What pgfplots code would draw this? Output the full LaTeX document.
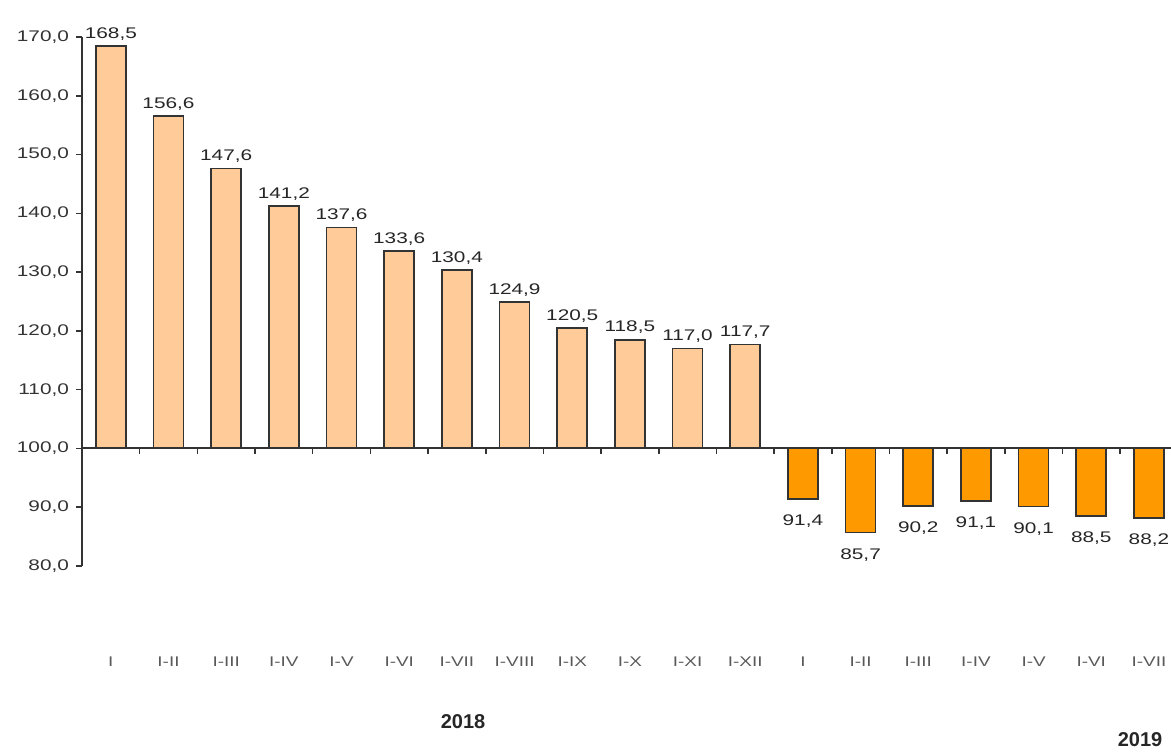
\documentclass[border=0pt]{standalone}
\usepackage{pgfplots}
\usepackage{pgfplotstable}
\pgfplotsset{compat=1.18}
\usepackage{fontspec}
\setmainfont{Liberation Sans}
\definecolor{peach}{HTML}{FFCC99}
\definecolor{orng}{HTML}{FF9900}
\definecolor{axc}{HTML}{333333}
\newcommand{\wide}[1]{\scalebox{1.35}[1]{#1}}

\pgfplotstableread{
x v
0 168.5
1 156.6
2 147.6
3 141.2
4 137.6
5 133.6
6 130.4
7 124.9
8 120.5
9 118.5
10 117.0
11 117.7
}\dataA
\pgfplotstableread{
x v
12 91.4
13 85.7
14 90.2
15 91.1
16 90.1
17 88.5
18 88.2
}\dataB

\begin{document}
\begin{tikzpicture}
\begin{axis}[
  at={(0,0)}, anchor=south west,
  scale only axis, width=545pt, height=264.5pt,
  xmin=-0.5, xmax=18.4,
  ymin=-20, ymax=70,
  y filter/.expression={y-100},
  axis y line*=left, axis x line*=bottom,
  x axis line style={draw=none},
  y axis line style={axc, line width=1.1pt, -},
  ytick={-20,-10,...,70},
  yticklabels={\wide{80,0},\wide{90,0},\wide{100,0},\wide{110,0},\wide{120,0},\wide{130,0},\wide{140,0},\wide{150,0},\wide{160,0},\wide{170,0}},
  yticklabel style={font=\fontsize{7.7}{9}\selectfont, text=black!80},
  ytick style={axc, line width=0.8pt},
  tick align=outside, major tick length=3pt,
  xtick={0,...,18},
  xtick style={draw=none},
  xticklabels={\wide{I},\wide{I-II},\wide{I-III},\wide{I-IV},\wide{I-V},\wide{I-VI},\wide{I-VII},\wide{I-VIII},\wide{I-IX},\wide{I-X},\wide{I-XI},\wide{I-XII},\wide{I},\wide{I-II},\wide{I-III},\wide{I-IV},\wide{I-V},\wide{I-VI},\wide{I-VII}},
  xticklabel style={font=\fontsize{7}{8}\selectfont, text=black!65, yshift=-39pt},
  ybar, bar width=15pt,
  /pgf/number format/assume math mode=true,
  nodes near coords={\wide{\pgfmathprintnumber[fixed,precision=1,zerofill,use comma,assume math mode=true]{\pgfplotspointmeta}}},
  point meta=\thisrow{v},
  every node near coord/.append style={font=\fontsize{7.7}{9}\selectfont, text=black!85, inner sep=2.5pt},
  clip=false,
]
\addplot[bar shift=0pt, fill=peach, draw=axc, line width=0.8pt] table[x=x, y=v] {\dataA};
\addplot[bar shift=0pt, fill=orng, draw=axc, line width=0.8pt,
  every node near coord/.append style={anchor=north, yshift=-5pt}] table[x=x, y=v] {\dataB};
\end{axis}
\draw[axc, line width=1pt] (0,58.78pt) -- (544.5pt,58.78pt);
\foreach \i in {1,...,18} \draw[axc, line width=0.8pt] (\i*28.836pt,58.78pt) -- ++(0,-3pt);
\node[font=\bfseries\fontsize{10}{12}\selectfont, text=black!85] at (190.5pt,-78pt) {2018};
\node[font=\bfseries\fontsize{10}{12}\selectfont, text=black!85] at (529pt,-87pt) {2019};
\pgfresetboundingbox
\path (-41pt,-93pt) rectangle (544.5pt,283pt);
\end{tikzpicture}
\end{document}
